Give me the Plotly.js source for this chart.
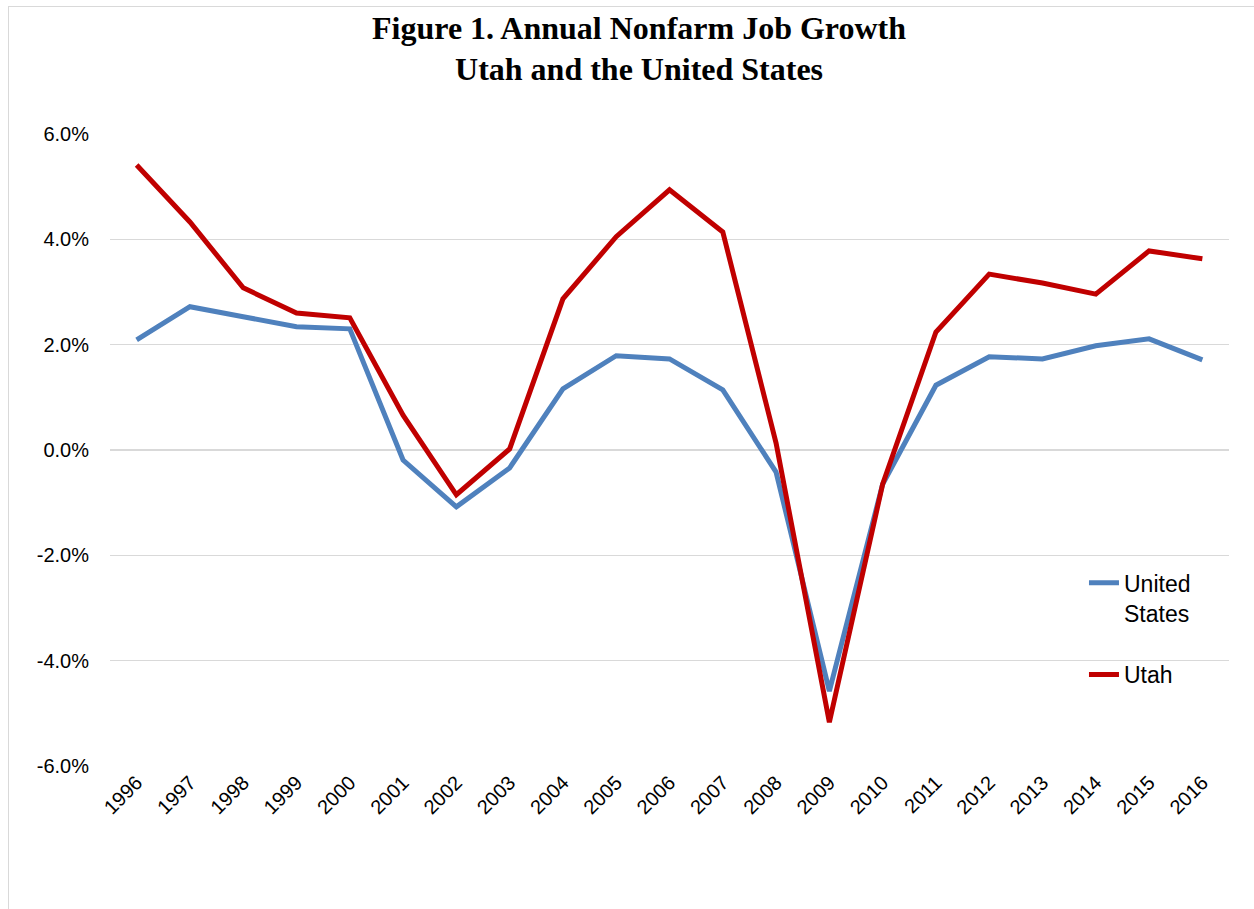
<!DOCTYPE html>
<html>
<head>
<meta charset="utf-8">
<script src="https://cdn.plot.ly/plotly-3.0.1.min.js"></script>
<style>
html,body{margin:0;padding:0;background:#fff;}
#chart{width:1254px;height:909px;position:absolute;left:0;top:0;}
#frame{position:absolute;left:8px;top:6px;width:1260px;height:920px;border-left:1.5px solid #D9D9D9;border-top:1.5px solid #D9D9D9;pointer-events:none;}
</style>
</head>
<body>
<div id="chart"></div>
<div id="frame"></div>
<script>
const years = ["1996","1997","1998","1999","2000","2001","2002","2003","2004","2005","2006","2007","2008","2009","2010","2011","2012","2013","2014","2015","2016"];
const unitedStates = [2.09, 2.72, 2.53, 2.34, 2.30, -0.19, -1.08, -0.34, 1.16, 1.79, 1.73, 1.14, -0.42, -4.58, -0.65, 1.23, 1.77, 1.73, 1.98, 2.11, 1.71];
const utah = [5.41, 4.33, 3.08, 2.60, 2.51, 0.66, -0.85, 0.02, 2.87, 4.05, 4.94, 4.14, 0.13, -5.17, -0.65, 2.24, 3.34, 3.17, 2.96, 3.78, 3.63];
const yTicks = [-6, -4, -2, 0, 2, 4, 6];
const yTickLabels = ["-6.0%", "-4.0%", "-2.0%", "0.0%", "2.0%", "4.0%", "6.0%"];

const traces = [
  {x: years, y: unitedStates, type: 'scatter', mode: 'lines', name: 'United<br>States',
   line: {color: '#4F81BD', width: 5}, legendgroup: 'us'},
  {x: years, y: utah, type: 'scatter', mode: 'lines', name: 'Utah',
   line: {color: '#C00000', width: 5}, legendgroup: 'ut'}
];

const layout = {
  width: 1254, height: 909,
  margin: {l: 110, r: 25, t: 134, b: 143},
  paper_bgcolor: 'rgba(0,0,0,0)', plot_bgcolor: 'rgba(0,0,0,0)',
  font: {family: 'Liberation Sans, Arial, sans-serif', color: '#000', size: 20},
  title: {
    text: '<b>Figure 1. Annual Nonfarm Job Growth<br>Utah and the United States</b>',
    font: {family: 'Liberation Serif, Times New Roman, serif', size: 32, color: '#000'},
    x: 0.5096, xanchor: 'center', xref: 'container', y: 0.9575, yanchor: 'top', yref: 'container'
  },
  xaxis: {
    type: 'category', range: [-0.5, 20.5], tickangle: -45, showgrid: false,
    showline: false, ticks: '', tickfont: {size: 20}, fixedrange: true
  },
  yaxis: {
    range: [-6, 6], tickvals: yTicks, ticktext: yTickLabels, showgrid: true,
    gridcolor: '#D9D9D9', gridwidth: 1.3, zeroline: false, showline: false, ticks: '',
    ticklabelstandoff: 20, tickfont: {size: 20}, fixedrange: true
  },
  showlegend: true,
  legend: {
    x: 0.8704, xanchor: 'left', y: 0.324, yanchor: 'top',
    traceorder: 'grouped', tracegroupgap: 29, valign: 'top',
    font: {size: 23}, bgcolor: 'rgba(0,0,0,0)'
  }
};

Plotly.newPlot('chart', traces, layout, {displayModeBar: false, staticPlot: true});
</script>
</body>
</html>
